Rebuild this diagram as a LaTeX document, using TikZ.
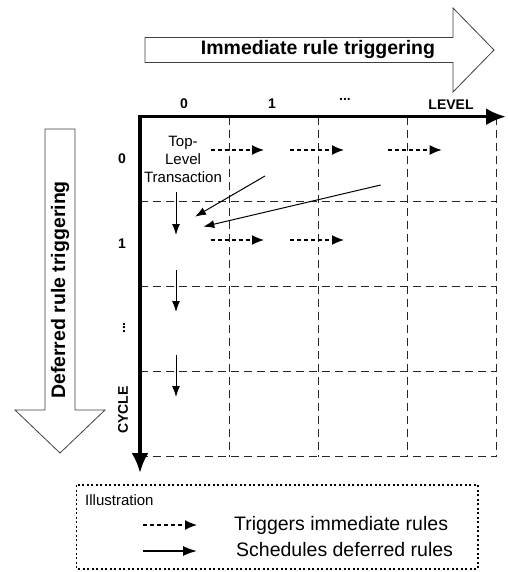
\documentclass[tikz,border=0pt]{standalone}
\usepackage{fontspec}
\setmainfont{Liberation Sans}
\usetikzlibrary{arrows,arrows.meta}

\newcommand{\arrowfont}{\fontsize{19.5}{23}\selectfont\bfseries}
\newcommand{\axisfont}{\fontsize{14}{16}\selectfont\bfseries}
\newcommand{\notefont}{\fontsize{15}{18}\selectfont}
\newcommand{\legendfont}{\fontsize{19.5}{23}\selectfont}

\tikzset{
  grid line/.style={dash pattern=on 8pt off 5pt, line width=1pt, black!85},
  immediate/.style={-{Latex[length=12pt,width=10pt]}, dash pattern=on 4pt off 3pt, line width=1.4pt},
  deferred/.style={-{Latex[length=11pt,width=8pt]}, line width=1pt},
  axis/.style={line width=3.5pt, -{Latex[length=20pt,width=17pt]}},
  hollow/.style={draw=black!75, line width=0.8pt, fill=white},
}

\begin{document}
\begin{tikzpicture}[x=1pt,y=-1pt]
\useasboundingbox (0,0) rectangle (507,572);

% big hollow arrows
\draw[hollow] (145,37.5) -- (453,37.5) -- (453,8) -- (494,50) -- (453,92) -- (453,62.5) -- (145,62.5) -- cycle;
\node (imm) at (318,50) {\arrowfont Immediate rule triggering};
\draw[hollow] (45,129) -- (75,129) -- (75,410) -- (105,410) -- (60,453) -- (15,410) -- (45,410) -- cycle;
\node [rotate=90] (def) at (60,290) {\arrowfont Deferred rule triggering};

% grid
\foreach \x in {229,318,407,496} \draw[grid line] (\x,116.7) -- (\x,456.7);
\foreach \y in {201.7,286.7,371.7,456.7} \draw[grid line] (140,\y) -- (496,\y);

% axes
\coordinate (o) at (140,116.7);
\coordinate (xend) at (506,116.7);
\coordinate (yend) at (140,473);
\draw[axis, shorten <=-1.75pt] (o) -- (xend);
\draw[axis, shorten <=-1.75pt] (o) -- (yend);

\node (l0) at (184,104) {\axisfont 0};
\node (l1) at (272,104) {\axisfont 1};
\node (ldots) at (345,99) {\axisfont ...};
\node (level) at (451,105) {\axisfont LEVEL};

\node (c0) at (122,159) {\axisfont 0};
\node (c1) at (122,244) {\axisfont 1};
\node [rotate=90] (cdots) at (124,328) {\axisfont ...};
\node [rotate=90] (cycle) at (123,410) {\axisfont CYCLE};

\node [align=center, font=\notefont] (tlt) at (183,159) {Top-\\Level\\Transaction};

% immediate rules
\coordinate (a1) at (210.7,150);
\coordinate (a2) at (264,150);
\coordinate (a3) at (290,150);
\coordinate (a4) at (344,150);
\coordinate (a5) at (388,150);
\coordinate (a6) at (441.7,150);
\coordinate (b1) at (210.7,240);
\coordinate (b2) at (264,240);
\coordinate (b3) at (290,240);
\coordinate (b4) at (344,240);
\draw[immediate] (a1) -- (a2);
\draw[immediate] (a3) -- (a4);
\draw[immediate] (a5) -- (a6);
\draw[immediate] (b1) -- (b2);
\draw[immediate] (b3) -- (b4);

% deferred rules
\coordinate (d1) at (176,191.7);
\coordinate (d2) at (176,235);
\coordinate (d3) at (176,270);
\coordinate (d4) at (176,312);
\coordinate (d5) at (176,355);
\coordinate (d6) at (176,397);
\draw[deferred] (d1) -- (d2);
\draw[deferred] (d3) -- (d4);
\draw[deferred] (d5) -- (d6);

\coordinate (s1) at (265,176);
\coordinate (e1) at (195,216.7);
\coordinate (s2) at (380.7,185);
\coordinate (e2) at (203.3,226.7);
\draw[deferred] (s1) -- (e1);
\draw[deferred] (s2) -- (e2);

% legend
\draw[line width=1.5pt, dash pattern=on 2pt off 2.5pt] (76.7,485) rectangle (478,569);
\node [anchor=west, inner sep=0pt] (illu) at (85,500) {\notefont Illustration};
\coordinate (li1) at (143,525);
\coordinate (li2) at (197,525);
\coordinate (ld1) at (143,551);
\coordinate (ld2) at (197,551);
\draw[immediate] (li1) -- (li2);
\draw[deferred, -{Latex[length=14pt,width=10pt]}, line width=1.5pt] (ld1) -- (ld2);
\node [anchor=west, inner sep=0pt] (trig) at (234,525) {\legendfont Triggers immediate rules};
\node [anchor=west, inner sep=0pt] (sched) at (236,550) {\legendfont Schedules deferred rules};

\end{tikzpicture}
\end{document}
